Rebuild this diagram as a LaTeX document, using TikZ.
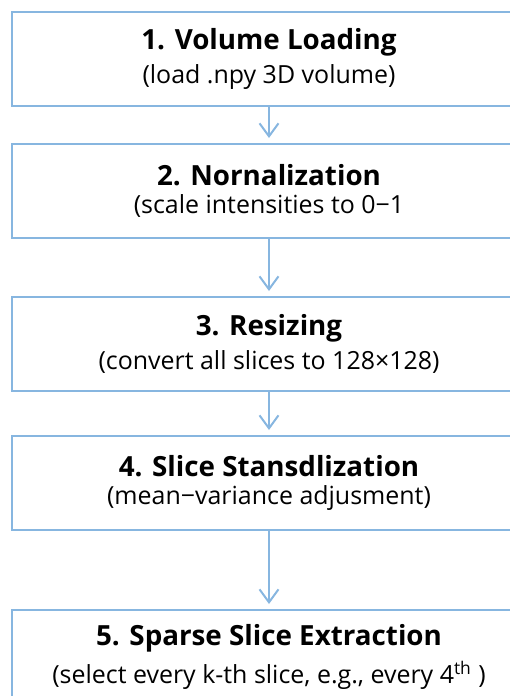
\documentclass[tikz,border=0pt]{standalone}
\usepackage{fontspec}
\setmainfont{Open Sans}
\usepackage{xcolor}
\usepackage{tikz}
\usetikzlibrary{arrows.meta, positioning}
\definecolor{lineblue}{RGB}{135, 182, 224}

\begin{document}
\begin{tikzpicture}[x=0.02cm, y=0.02cm,
    stepbox/.style={draw=lineblue, line width=0.04cm, fill=white, minimum width=10.28cm,
        minimum height=1.88cm, align=center, inner sep=0pt},
    flow/.style={draw=lineblue, line width=0.04cm, shorten >=0.1cm,
        -{Straight Barb[length=0.26cm, width=0.38cm, line width=0.04cm]}}]
    % Canvas (boxes run past the right edge)
    \useasboundingbox (0,0) rectangle (510,-696);
    \clip (0,0) rectangle (510,-696);

    % Title / subtitle fonts
    \def\ttl#1{{\fontsize{15.8}{21}\selectfont\bfseries #1}}
    \def\sub#1{{\fontsize{14.2}{21}\selectfont #1}}

    % Pipeline steps
    \node[stepbox] (load)  at (269,-59)   {\ttl{1. Volume Loading}\\[0.14cm]\sub{(load .npy 3D volume)}};
    \node[stepbox] (norm)  at (269,-191)  {\ttl{2. Nornalization}\\[0.14cm]\sub{(scale intensities to 0−1}};
    \node[stepbox] (resz)  at (269,-344)  {\ttl{3. Resizing}\\[0.14cm]\sub{(convert all slices to 128×128)}};
    \node[stepbox] (stand) at (269,-483)  {\ttl{4. Slice Stansdlization}\\[0.14cm]\sub{(mean−variance adjusment)}};
    \node[stepbox] (spars) at (269,-657)  {\ttl{5. Sparse Slice Extraction}\\[0.14cm]\sub{(select every k-th slice, e.g., every 4\textsuperscript{th} )}};

    % Arrows
    \draw[flow] (load) -- (norm);
    \draw[flow] (norm) -- (resz);
    \draw[flow] (resz) -- (stand);
    \draw[flow] (stand) -- (spars);
\end{tikzpicture}
\end{document}
